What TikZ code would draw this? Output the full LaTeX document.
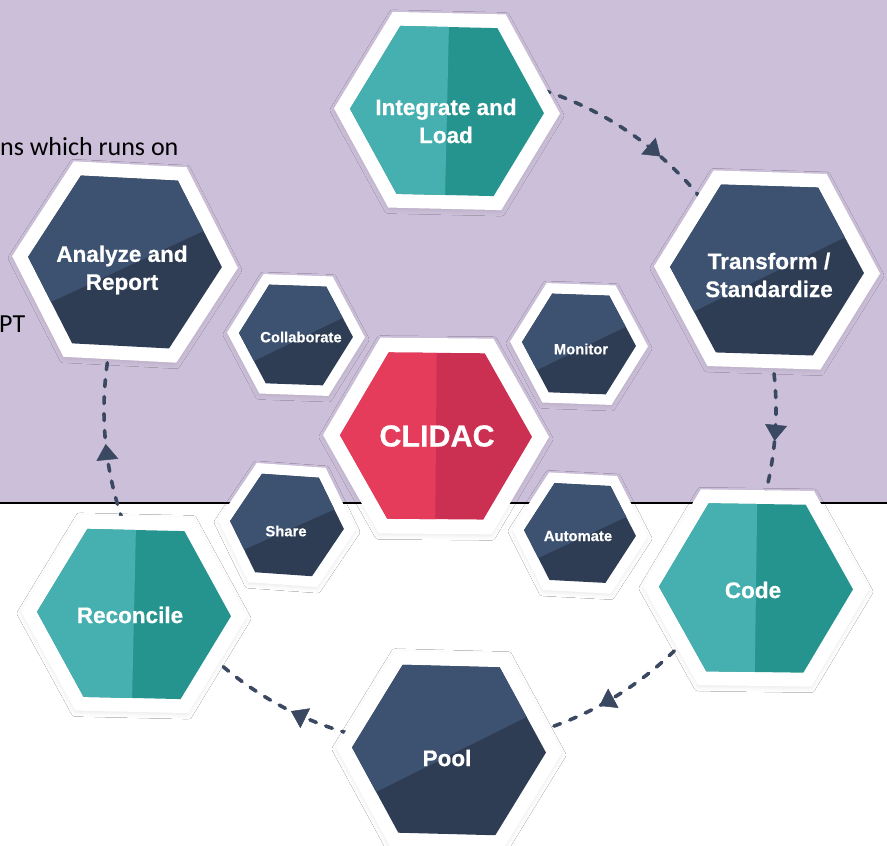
\documentclass[tikz,border=0pt]{standalone}
\usepackage{fontspec}
\setmainfont{Carlito}
\newfontfamily\hexfont{Liberation Sans}[BoldFeatures={FakeBold=0.5}]
\usetikzlibrary{shapes.geometric,arrows.meta,decorations.markings,shadows.blur,calc}
\definecolor{lav}{HTML}{CCBFD9}
\definecolor{tealL}{HTML}{46AFAF}
\definecolor{tealD}{HTML}{26948E}
\definecolor{redL}{HTML}{E43C5A}
\definecolor{redD}{HTML}{CB2F51}
\definecolor{blueL}{HTML}{3D5270}
\definecolor{blueD}{HTML}{2E3D54}
\definecolor{dashc}{HTML}{3A4862}
\tikzset{
  hexshell/.style={regular polygon, regular polygon sides=6, fill=white, draw=none,
    inner sep=0pt, outer sep=0pt,
    blur shadow={shadow xshift=0pt, shadow yshift=-2pt, shadow blur radius=4pt, shadow opacity=8}},
  biglabel/.style={text=white, inner sep=0pt, align=center,
    font=\hexfont\bfseries\fontsize{22.5}{28}\selectfont},
  smalllabel/.style={text=white, inner sep=0pt, align=center,
    font=\hexfont\bfseries\fontsize{14.8}{18}\selectfont},
  flow/.style={draw=dashc, line width=3.6pt, dash pattern=on 7pt off 10pt, line cap=round,
    postaction={decorate, decoration={markings,
      mark=at position #1 with {\arrow[dashc]{Triangle[width=22pt,length=16pt,line width=0.5pt]}}}}},
  sidetext/.style={inner sep=0pt, anchor=base west, text=black, font=\fontsize{26}{30}\selectfont}
}
% vertical split hexagon: name, x, y, R, r, rot, light, dark
\newcommand{\HexV}[8]{%
  \node[hexshell, minimum size={2*#4pt}, shape border rotate=#6] (#1) at (#2,-#3) {};
  \begin{scope}[shift={(#2,-#3)}, rotate=#6]
    \fill[#8] (0:#5) -- (60:#5) -- (120:#5) -- (180:#5) -- (240:#5) -- (300:#5) -- cycle;
    \fill[#7] (90:{0.866*#5}) -- (120:#5) -- (180:#5) -- (240:#5) -- (270:{0.866*#5}) -- cycle;
  \end{scope}}
% diagonal split hexagon: name, x, y, R, r, rot, light, dark
\newcommand{\HexD}[8]{%
  \node[hexshell, minimum size={2*#4pt}, shape border rotate=#6] (#1) at (#2,-#3) {};
  \begin{scope}[shift={(#2,-#3)}, rotate=#6]
    \fill[#8] (0:#5) -- (60:#5) -- (120:#5) -- (180:#5) -- (240:#5) -- (300:#5) -- cycle;
    \begin{scope}
      \clip (0:#5) -- (60:#5) -- (120:#5) -- (180:#5) -- (240:#5) -- (300:#5) -- cycle;
      \fill[#7, rotate=28] (-200,-5) rectangle (200,200);
    \end{scope}
  \end{scope}}
\begin{document}
\begin{tikzpicture}[x=1pt,y=1pt]
\useasboundingbox (0,0) rectangle (887,-846);
\clip (0,0) rectangle (887,-846);
\fill[white] (0,0) rectangle (887,-846);
\fill[lav] (0,0) rectangle (887,-503);
\draw[line width=2pt, black] (0,-503) -- (887,-503);

\node[sidetext] (txt1) at (0,-155) {ns which runs on};
\node[sidetext] (txt2) at (-1,-332) {PT};

% dashed cycle arcs
\coordinate (C) at (440,-410);
\coordinate (a1) at ($(C)+(75:336)$);
\coordinate (a2) at ($(C)+(12:336)$);
\coordinate (a3) at ($(C)+(-40:336)$);
\coordinate (a4) at ($(C)+(-100:336)$);
\coordinate (a5) at ($(C)+(205:336)$);
\draw[flow=0.667] (a1) arc[start angle=75, end angle=36, radius=336];
\draw[flow=0.54] (a2) arc[start angle=12, end angle=-20, radius=336];
\draw[flow=0.62] (a3) arc[start angle=-40, end angle=-75, radius=336];
\draw[flow=0.43] (a4) arc[start angle=-100, end angle=-138, radius=336];
\draw[flow=0.48] (a5) arc[start angle=205, end angle=165, radius=336];

% outer ring
\HexV{int}{447}{111}{113}{97}{-1.3}{tealL}{tealD}
\HexD{tra}{767}{270}{113}{97}{-1.8}{blueL}{blueD}
\HexV{cod}{756}{588}{113}{97}{-0.8}{tealL}{tealD}
\HexD{poo}{449}{750}{113}{97}{-1.5}{blueL}{blueD}
\HexV{rec}{134}{614}{113}{97}{-1.3}{tealL}{tealD}
\HexD{ana}{125}{262}{113}{97}{-3}{blueL}{blueD}
% inner small
\HexD{col}{296}{335}{69}{57}{-2}{blueL}{blueD}
\HexD{mon}{579}{344}{69}{57}{-2}{blueL}{blueD}
\HexD{sha}{287}{525}{69}{57}{-4}{blueL}{blueD}
\HexD{aut}{580}{533}{68}{56}{-3}{blueL}{blueD}
% centre
\HexV{cli}{436}{436}{113}{96}{-0.5}{redL}{redD}

% labels
\node[biglabel] (int-t) at (446,-121) {Integrate and\\Load};
\node[biglabel] (ana-t) at (122,-270) {Analyze and\\Report};
\node[biglabel] (tra-t) at (769,-275) {Transform /\\Standardize};
\node[biglabel] (cod-t) at (753,-590) {Code};
\node[biglabel] (rec-t) at (130,-615) {Reconcile};
\node[biglabel] (poo-t) at (447,-758) {Pool};
\node[text=white, inner sep=0pt, font=\hexfont\bfseries\fontsize{30.5}{36}\selectfont] (cli-t) at (437,-436) {CLIDAC};
\node[smalllabel] (col-t) at (301,-337) {Collaborate};
\node[smalllabel] (mon-t) at (581,-349) {Monitor};
\node[smalllabel] (sha-t) at (286,-531) {Share};
\node[smalllabel] (aut-t) at (578,-536) {Automate};
\end{tikzpicture}
\end{document}
